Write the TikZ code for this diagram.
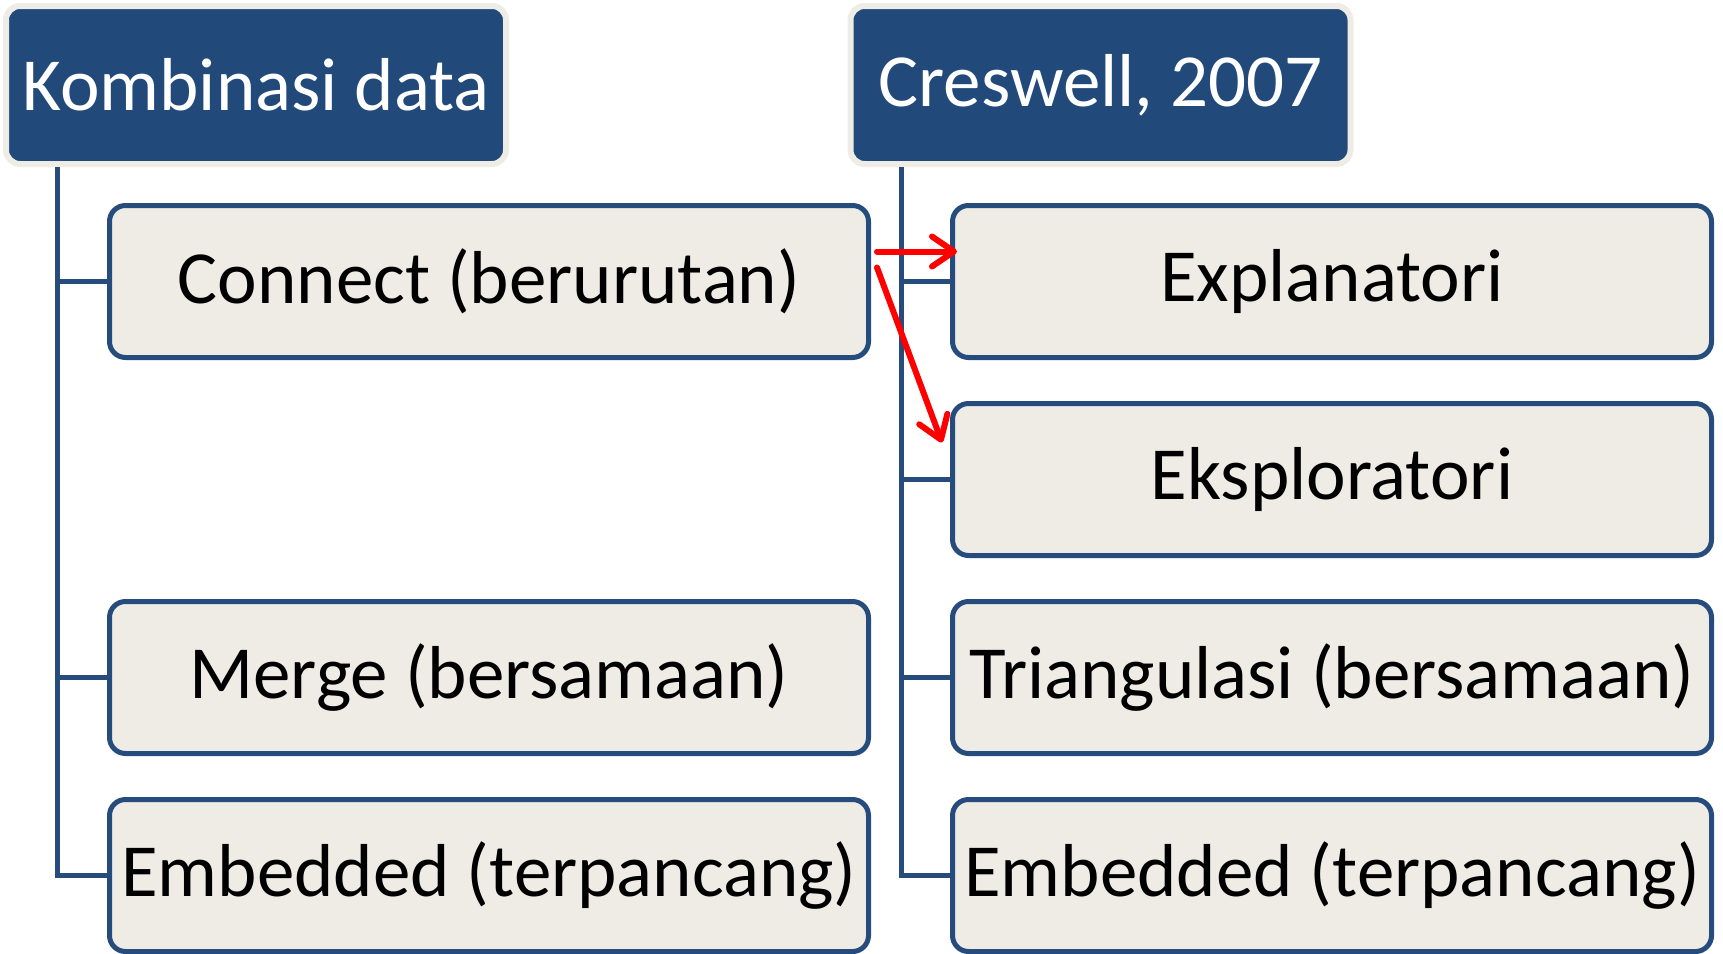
\documentclass[tikz,border=0pt]{standalone}
\usepackage{fontspec}
\setmainfont{Carlito}
\usepackage{xcolor}
\usetikzlibrary{positioning,arrows.meta}
\definecolor{hdblue}{HTML}{214A7B}
\definecolor{boxtan}{HTML}{EEECE4}
\definecolor{lnblue}{HTML}{264C7E}

\begin{document}
\begin{tikzpicture}[x=1pt,y=1pt,node distance=198pt,on grid,
   head/.style={draw=boxtan,line width=6pt,fill=hdblue,rounded corners=14pt,
      minimum width=500pt,minimum height=158pt,text=white,font=\fontsize{75}{90}\selectfont},
   item/.style={draw=lnblue,line width=5pt,fill=boxtan,rounded corners=16pt,
      minimum width=759pt,minimum height=152pt,font=\fontsize{75}{90}\selectfont},
   link/.style={draw=lnblue,line width=5pt},
   redarr/.style={red,line width=6pt,line cap=round,-{Straight Barb[length=22pt,width=30pt,round]}}]
   \useasboundingbox (0,0) rectangle (1723,-953);
   \node[head] (kd) at (256,-85) {Kombinasi data};
   \node[head] (cw) at (1100.5,-85) {Creswell, 2007};
   \node[item] (con) at (489,-281.5) {Connect (berurutan)};
   \node[item] (mrg) [below=396pt of con] {Merge (bersamaan)};
   \node[item] (embL) [below=of mrg] {Embedded (terpancang)};
   \node[item] (expl) at (1332,-281.5) {Explanatori};
   \node[item] (eks) [below=of expl] {Eksploratori};
   \node[item] (tri) [below=of eks] {Triangulasi (bersamaan)};
   \node[item] (embR) [below=of tri] {Embedded (terpancang)};
   \foreach \n in {con,mrg,embL}
      \draw[link] ([xshift=54pt]kd.south west) |- (\n.west);
   \foreach \n in {expl,eks,tri,embR}
      \draw[link] ([xshift=54pt]cw.south west) |- (\n.west);
   \draw[redarr] ([xshift=6pt,yshift=30pt]con.east) -- ([xshift=7pt,yshift=30pt]expl.west);
   \draw[redarr] ([xshift=6pt,yshift=14pt]con.east) -- ([xshift=-8pt,yshift=37pt]eks.west);
\end{tikzpicture}
\end{document}
